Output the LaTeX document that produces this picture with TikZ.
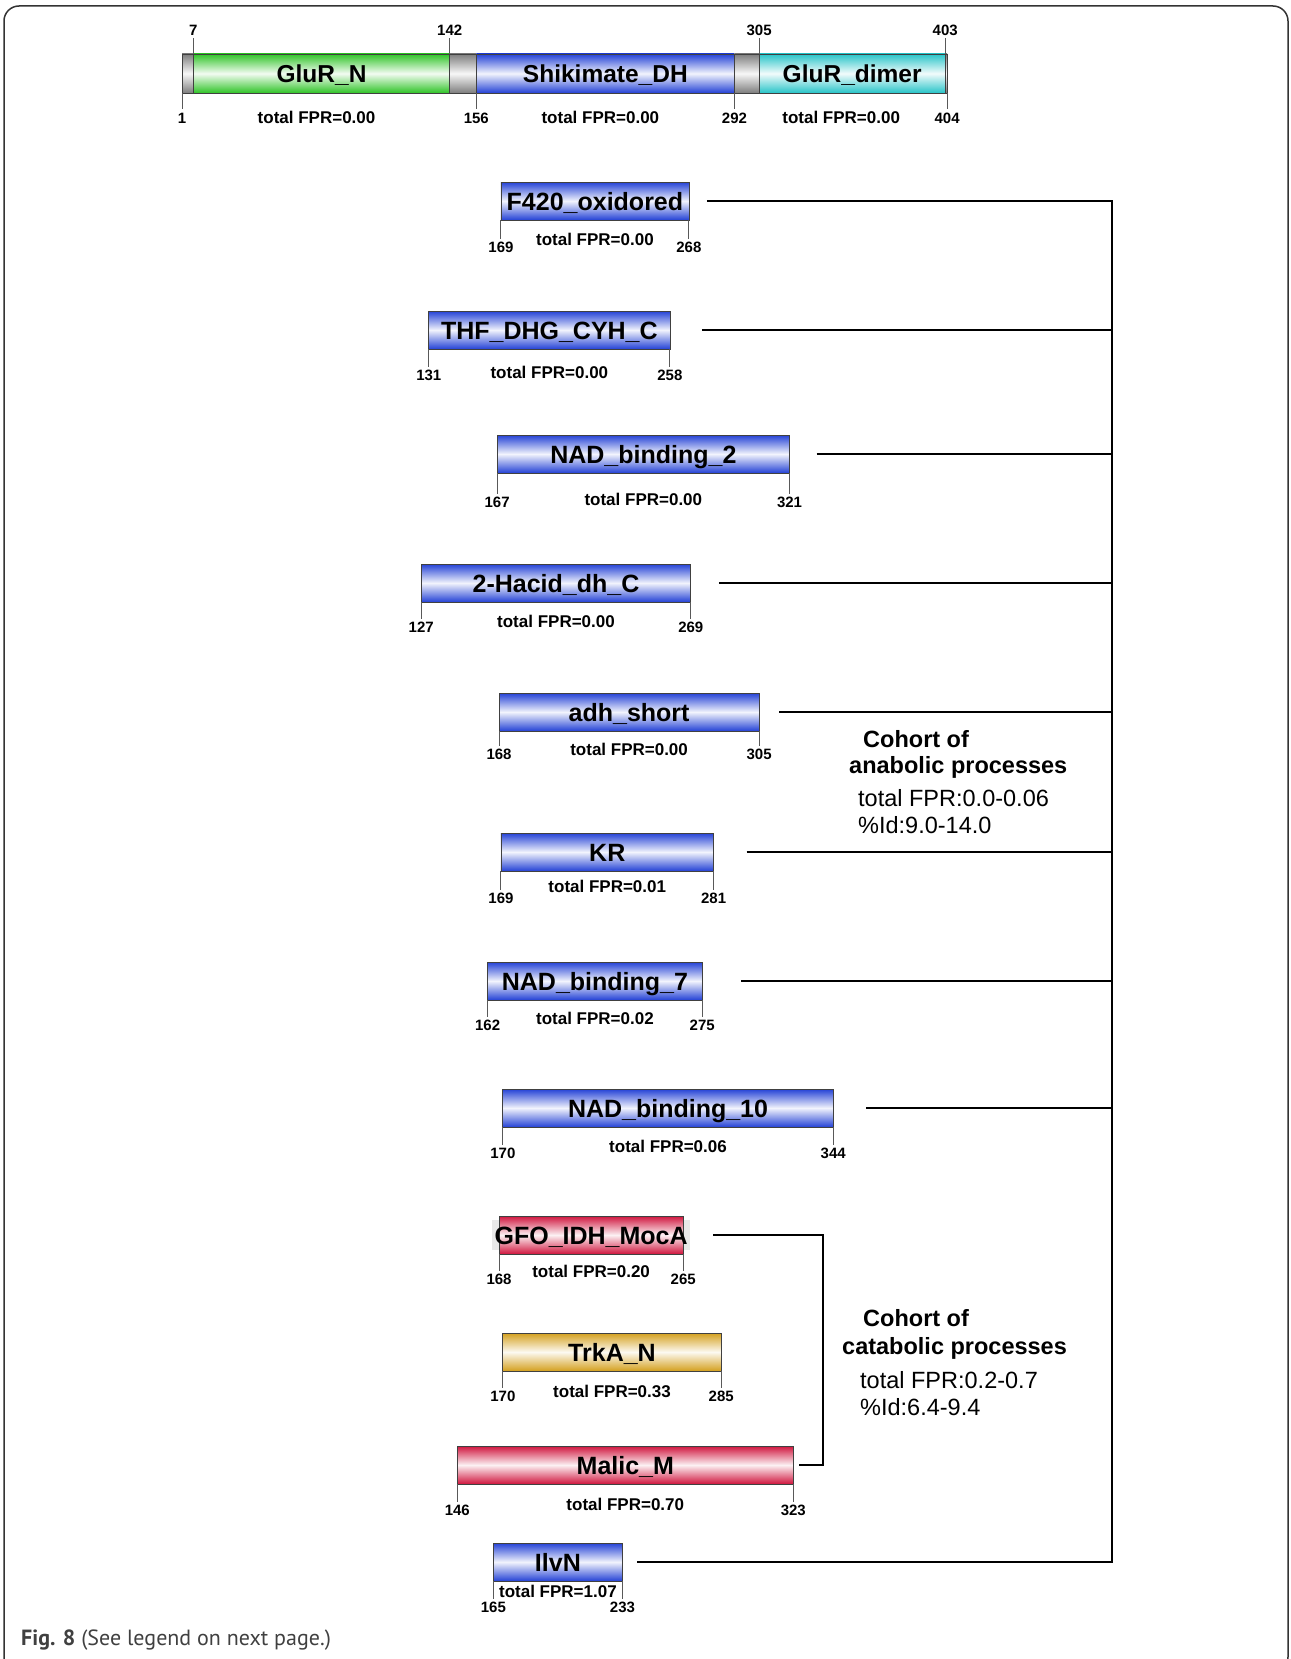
\documentclass[tikz,border=0pt]{standalone}
\usepackage{fontspec}
\setmainfont{Liberation Sans}
\newfontfamily\capfont{PT Sans}
\usetikzlibrary{calc}
\definecolor{domblue}{RGB}{36,66,214}
\definecolor{domgreen}{RGB}{48,196,40}
\definecolor{domcyan}{RGB}{40,196,200}
\definecolor{domgray}{RGB}{125,125,125}
\definecolor{domred}{RGB}{208,22,62}
\definecolor{domgold}{RGB}{212,160,30}
\tikzset{
  dombox/.style={draw=black!75, line width=0.8pt, minimum height=38pt, inner sep=0pt, outer sep=0pt},
  blueshade/.style={top color=domblue, bottom color=domblue, middle color=domblue!6},
  greenshade/.style={top color=domgreen, bottom color=domgreen, middle color=domgreen!6},
  cyanshade/.style={top color=domcyan, bottom color=domcyan, middle color=domcyan!6},
  grayshade/.style={top color=domgray, bottom color=domgray, middle color=domgray!6},
  redshade/.style={top color=domred, bottom color=domred, middle color=domred!6},
  goldshade/.style={top color=domgold, bottom color=domgold, middle color=domgold!6},
  dlabel/.style={font=\fontsize{25}{30}\selectfont\bfseries, inner sep=0pt, anchor=base},
  toplabel/.style={font=\fontsize{24.5}{29}\selectfont\bfseries, inner sep=0pt, anchor=base},
  numlab/.style={font=\fontsize{15}{18}\selectfont\bfseries, inner sep=0pt},
  fprlab/.style={font=\fontsize{17}{20}\selectfont\bfseries, inner sep=0pt},
  tickline/.style={draw=black!65, line width=1pt},
  conn/.style={draw=black, line width=2.7pt, line join=miter},
  cohortb/.style={font=\fontsize{23.5}{28}\selectfont\bfseries, anchor=west, inner sep=0pt},
  cohortr/.style={font=\fontsize{23.5}{28}\selectfont, anchor=west, inner sep=0pt},
  frame/.style={draw=black!80, line width=1.5pt, rounded corners=15pt},
  textpatch/.style={fill=black!9, inner sep=0pt},
}
% #1 name, #2 start, #3 end, #4 top y, #5 shading, #6 label, #7 fpr, #8 fpr offset, #9 number offset
\newcommand\domain[9]{%
  \node[dombox,#5,anchor=north west,minimum width={(#3-#2)*1.8985pt}] (#1) at ({182+(#2-1)*1.8985},#4) {};
  \node[dlabel] (#1-name) at ($(#1.center)+(0,9)$) {#6};
  \draw[tickline] (#1.south west) -- ++(0,{#9-8});
  \draw[tickline] (#1.south east) -- ++(0,{#9-8});
  \node[numlab] (#1-s) at ($(#1.south west)+(0,#9)$) {#2};
  \node[numlab] (#1-e) at ($(#1.south east)+(0,#9)$) {#3};
  \node[fprlab] (#1-fpr) at ($(#1.south)+(0,#8)$) {total FPR=#7};
}
\newcommand\seg[4]{%
  \node[dombox,#4,anchor=north west,minimum height=39pt,minimum width={(#3-#2)*1.8985pt}] (#1) at ({182+(#2-1)*1.8985},54) {};
}
\begin{document}
\begin{tikzpicture}[x=1pt,y=-1pt]
\useasboundingbox (0,0) rectangle (1290,1659);
\begin{scope}
  \clip (0,0) rectangle (1290,1659);
  \draw[frame] (4,6) rectangle (1288,1672);
\end{scope}

% top protein bar
\seg{g1}{1}{7}{grayshade}
\seg{gluN}{7}{142}{greenshade}
\seg{g2}{142}{156}{grayshade}
\seg{shik}{156}{292}{blueshade}
\seg{g3}{292}{305}{grayshade}
\seg{dimer}{305}{403}{cyanshade}
\seg{g4}{403}{404}{grayshade}
\node[toplabel] (gluN-name) at ($(gluN.center)+(0,9)$) {GluR\_N};
\node[toplabel] (shik-name) at ($(shik.center)+(0,9)$) {Shikimate\_DH};
\node[toplabel] (dimer-name) at ($(dimer.center)+(0,9)$) {GluR\_dimer};
\draw[tickline] (gluN.north west) -- ++(0,-16);
\draw[tickline] (gluN.north east) -- ++(0,-16);
\draw[tickline] (dimer.north west) -- ++(0,-16);
\draw[tickline] (dimer.north east) -- ++(0,-16);
\node[numlab] (t7) at ($(gluN.north west)+(0,-24)$) {7};
\node[numlab] (t142) at ($(gluN.north east)+(0,-24)$) {142};
\node[numlab] (t305) at ($(dimer.north west)+(0,-24)$) {305};
\node[numlab] (t403) at ($(dimer.north east)+(0,-24)$) {403};
\draw[tickline] (g1.south west) -- ++(0,16);
\draw[tickline] (shik.south west) -- ++(0,16);
\draw[tickline] (shik.south east) -- ++(0,16);
\draw[tickline] (g4.south east) -- ++(0,16);
\node[numlab] (b1) at ($(g1.south west)+(0,25)$) {1};
\node[numlab] (b156) at ($(shik.south west)+(0,25)$) {156};
\node[numlab] (b292) at ($(shik.south east)+(0,25)$) {292};
\node[numlab] (b404) at ($(g4.south east)+(0,25)$) {404};
\node[fprlab] (gluN-fpr) at ($(gluN.south)+(-5,24)$) {total FPR=0.00};
\node[fprlab] (shik-fpr) at ($(shik.south)+(-5,24)$) {total FPR=0.00};
\node[fprlab] (dimer-fpr) at ($(dimer.south)+(-11,24)$) {total FPR=0.00};

% light patch behind the overflowing GFO label
\node[textpatch, minimum width=198pt, minimum height=30pt] (gfo-patch) at (591,1235) {};

% domains
\domain{f420}{169}{268}{182}{blueshade}{F420\_oxidored}{0.00}{19}{27}
\domain{thf}{131}{258}{311}{blueshade}{THF\_DHG\_CYH\_C}{0.00}{23}{26}
\domain{nad2}{167}{321}{435}{blueshade}{NAD\_binding\_2}{0.00}{26}{29}
\domain{hacid}{127}{269}{564}{blueshade}{2-Hacid\_dh\_C}{0.00}{19}{25}
\domain{adh}{168}{305}{693}{blueshade}{adh\_short}{0.00}{18}{23}
\domain{kr}{169}{281}{833}{blueshade}{KR}{0.01}{15}{27}
\domain{nad7}{162}{275}{962}{blueshade}{NAD\_binding\_7}{0.02}{18}{25}
\domain{nad10}{170}{344}{1089}{blueshade}{NAD\_binding\_10}{0.06}{19}{26}
\domain{gfo}{168}{265}{1216}{redshade}{GFO\_IDH\_MocA}{0.20}{17}{25}
\domain{trka}{170}{285}{1333}{goldshade}{TrkA\_N}{0.33}{20}{25}
\domain{malic}{146}{323}{1446}{redshade}{Malic\_M}{0.70}{20}{26}
\domain{ilvn}{165}{233}{1543}{blueshade}{IlvN}{1.07}{10}{26}

% connectors
\coordinate (trunk) at (1112,0);
\coordinate (cat) at (823,0);
\draw[conn, shorten <=18pt, shorten >=15pt] (f420.east) -- (f420.east -| trunk) -- (ilvn.east -| trunk) -- (ilvn.east);
\draw[conn, shorten <=32pt] (thf.east) -- (thf.east -| trunk);
\draw[conn, shorten <=27pt] (nad2.east) -- (nad2.east -| trunk);
\draw[conn, shorten <=28pt] (hacid.east) -- (hacid.east -| trunk);
\draw[conn, shorten <=20pt] (adh.east) -- (adh.east -| trunk);
\draw[conn, shorten <=33pt] (kr.east) -- (kr.east -| trunk);
\draw[conn, shorten <=39pt] (nad7.east) -- (nad7.east -| trunk);
\draw[conn, shorten <=33pt] (nad10.east) -- (nad10.east -| trunk);
\draw[conn, shorten <=30pt, shorten >=6pt] (gfo.east) -- (gfo.east -| cat) -- (malic.east -| cat) -- (malic.east);

% cohort texts
\node[cohortb] (ana1) at (863,739) {Cohort of};
\node[cohortb] (ana2) at (849,767) {anabolic processes};
\node[cohortr] (ana3) at (858,798) {total FPR:0.0-0.06};
\node[cohortr] (ana4) at (858,825) {\%Id:9.0-14.0};
\node[cohortb] (cat1) at (863,1318) {Cohort of};
\node[cohortb] (cat2) at (842,1348) {catabolic processes};
\node[cohortr] (cat3) at (860,1380) {total FPR:0.2-0.7};
\node[cohortr] (cat4) at (860,1407) {\%Id:6.4-9.4};

% caption
\node[anchor=west, inner sep=0pt, font=\capfont\fontsize{22}{26}\selectfont, text=black!75] (caption) at (21,1640) {\textbf{Fig. 8} (See legend on next page.)};
\end{tikzpicture}
\end{document}
